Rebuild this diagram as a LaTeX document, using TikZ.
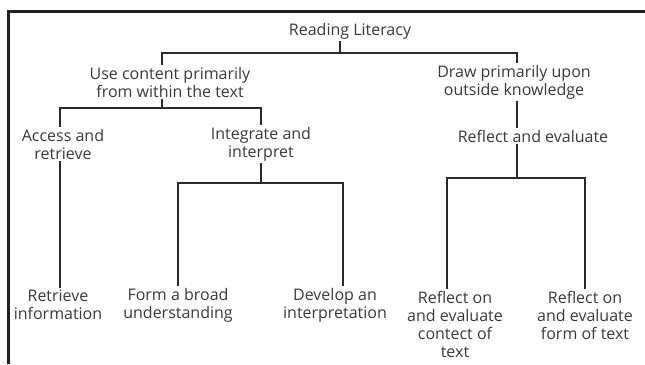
\documentclass[tikz,border=0pt]{standalone}
\usepackage{fontspec}
\setmainfont{Open Sans}
\usepackage{tikz}
\definecolor{cline}{HTML}{2B2B2B}
\definecolor{ctext}{HTML}{3A3A3A}
\definecolor{cframe}{HTML}{231F20}

\tikzset{
  lbl/.style={text=ctext,align=center,inner sep=2pt,
    font=\fontsize{16}{18}\selectfont},
  link/.style={draw=cline,line width=1.2pt}
}

\begin{document}
\begin{tikzpicture}[x=1pt,y=-1pt]
  \useasboundingbox (0,0) rectangle (645,364);
  % frame on top and left
  \draw[cframe,line width=3pt] (645,11) -- (8.5,11) -- (8.5,364);

  % top level
  \node[lbl] (rl) at (350,31) {Reading Literacy};
  \node[lbl] (uc) at (170,82) {Use content primarily\\from within the text};
  \node[lbl] (dk) at (514,82) {Draw primarily upon\\outside knowledge};
  % aspects
  \node[lbl] (ar) at (63,144) {Access and\\retrieve};
  \node[lbl] (ii) at (261,144) {Integrate and\\interpret};
  \node[lbl] (re) at (533,136) {Reflect and evaluate};
  % processes
  \node[lbl] (ri) at (58,305) {Retrieve\\information};
  \node[lbl] (fb) at (178,305) {Form a broad\\understanding};
  \node[lbl] (di) at (335,305) {Develop an\\interpretation};
  \node[lbl] (rc) at (455,324) {Reflect on\\and evaluate\\contect of\\text};
  \node[lbl] (rf) at (585,315) {Reflect on\\and evaluate\\form of text};

  % bus lines
  \coordinate (b0) at (340,53);
  \coordinate (b1) at (162,108);
  \coordinate (b2) at (261,183);
  \coordinate (b3) at (517,178);

  \draw[link] ([xshift=-10pt]rl.south) -- (b0);
  \draw[link] ([xshift=-8pt]uc.north) |- (b0) -| ([xshift=3pt]dk.north);
  \draw[link] ([xshift=-8pt]uc.south) -- (b1);
  \draw[link] ([xshift=-3pt]ar.north) |- (b1) -| (ii.north);
  \draw[link] ([xshift=-3pt]ar.south) -- ([xshift=2pt]ri.north);
  \draw[link] (ii.south) -- (b2);
  \draw[link] (fb.north) |- (b2) -| ([xshift=8pt]di.north);
  \draw[link] ([xshift=3pt]dk.south) -- ([xshift=-16pt]re.north);
  \draw[link] ([xshift=-16pt]re.south) -- (b3);
  \draw[link] ([xshift=-8pt]rc.north) |- (b3) -| (rf.north);
\end{tikzpicture}
\end{document}
